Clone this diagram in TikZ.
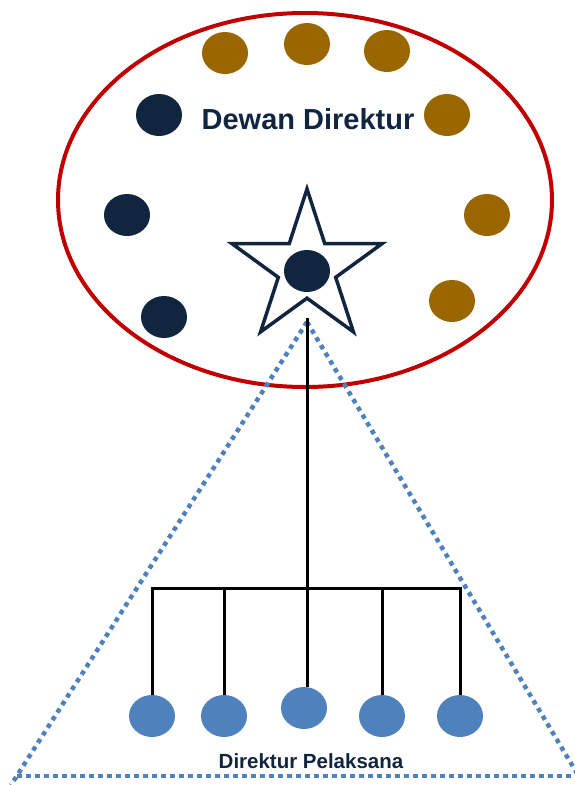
\documentclass[tikz,border=0pt]{standalone}
\usepackage{fontspec}
\setmainfont{Liberation Sans}
\usetikzlibrary{shapes.geometric}
\definecolor{navy}{HTML}{12253F}
\definecolor{gold}{HTML}{996600}
\definecolor{lblue}{HTML}{4F81BD}
\definecolor{dred}{HTML}{C00000}
\tikzset{
  member/.style={ellipse, minimum width=46pt, minimum height=42pt, inner sep=0pt, fill=#1},
  exec/.style={ellipse, minimum width=46pt, minimum height=42pt, inner sep=0pt, fill=lblue},
  link/.style={line width=3pt, black},
  dots/.style={line width=4.5pt, lblue, dash pattern=on 4.5pt off 4.5pt},
}
\begin{document}
\begin{tikzpicture}[x=1pt,y=-1pt]
\useasboundingbox (0,0) rectangle (574,785);
% board ellipse
\node[ellipse, draw=dred, line width=4pt, minimum width=494pt, minimum height=374pt, inner sep=0pt] (board) at (305,200) {};
% dotted triangle
\coordinate (apex) at (307,322);
\coordinate (bl) at (11,785);
\coordinate (br) at (584,785);
\coordinate (bbl) at (17,776);
\coordinate (bbr) at (580,776);
\draw[dots] (apex) -- (bl);
\draw[dots] (apex) -- (br);
\draw[dots] (bbl) -- (bbr);
% star
\node[star, star points=5, star point ratio=2.618, minimum size=158pt, inner sep=0pt, draw=navy, line width=3.5pt] (star) at (307,268) {};
% members
\node[member=gold] (g1) at (225,53) {};
\node[member=gold] (g2) at (307,44) {};
\node[member=gold] (g3) at (387,51) {};
\node[member=gold] (g4) at (447,115) {};
\node[member=gold] (g5) at (487,215) {};
\node[member=gold] (g6) at (452,301) {};
\node[member=navy] (n1) at (159,115) {};
\node[member=navy] (n2) at (127,215) {};
\node[member=navy] (n3) at (164,317) {};
\node[member=navy] (chief) at (307,271) {};
\node[text=navy, font=\bfseries\fontsize{29}{34}\selectfont, inner sep=0pt, anchor=base] (title) at (308,129) {Dewan Direktur};
% executives
\node[exec] (b1) at (152,716) {};
\node[exec] (b2) at (224,716) {};
\node[exec] (b3) at (304,708) {};
\node[exec] (b4) at (382,716) {};
\node[exec] (b5) at (460,716) {};
\node[text=navy, font=\bfseries\fontsize{20.5}{24}\selectfont, inner sep=0pt, anchor=base] (exlabel) at (311,768) {Direktur Pelaksana};
% connectors
\coordinate (top) at (307,318);
\coordinate (bar) at (307,588);
\draw[link] (top) -- (top |- b3.north);
\draw[link] (b1.north) -- (b1.north |- bar) -- (b5.north |- bar) -- (b5.north);
\draw[link] (b2.north) -- (b2.north |- bar);
\draw[link] (b4.north) -- (b4.north |- bar);
\end{tikzpicture}
\end{document}
